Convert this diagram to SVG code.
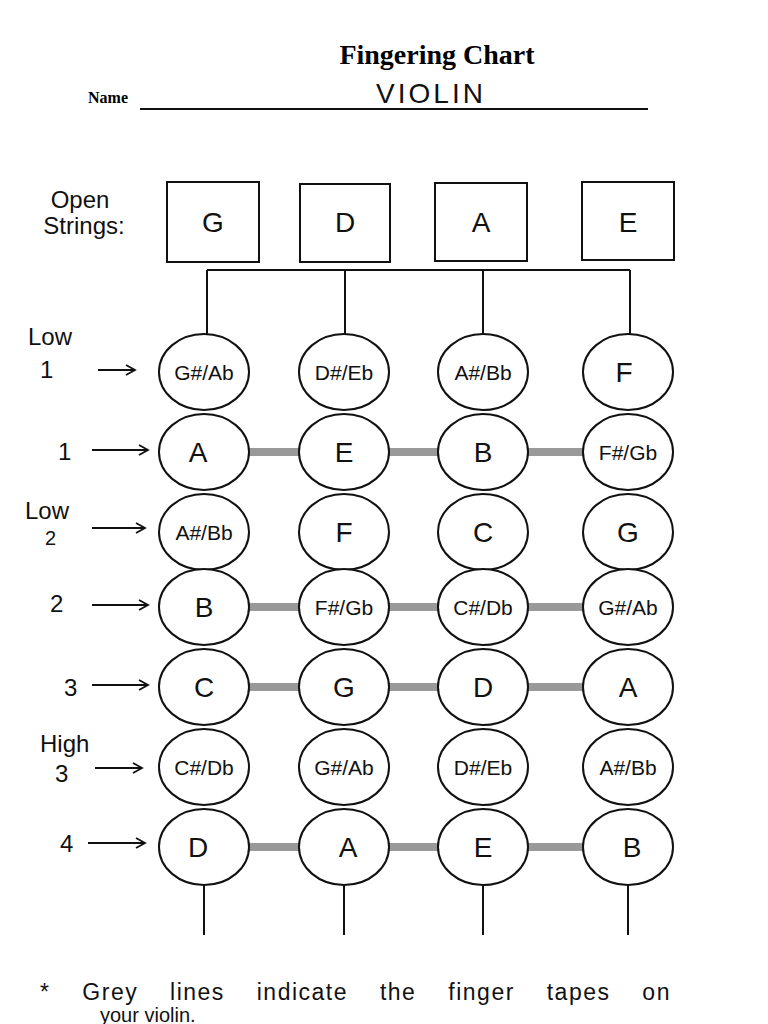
<svg xmlns="http://www.w3.org/2000/svg" width="768" height="1024" viewBox="0 0 768 1024">
<style>
.h{font-family:"Liberation Sans",sans-serif;fill:#111}
.n{font-size:28px;text-anchor:middle}
.s{font-size:21px;text-anchor:middle}
.b{fill:none;stroke:#111;stroke-width:2}
.c{fill:#fff;stroke:#111;stroke-width:2}
.l{stroke:#111;stroke-width:2}
.ar{stroke:#111;stroke-width:1.8;marker-end:url(#a)}
.t{stroke:#999;stroke-width:8}
.lab{font-size:24px}
</style>
<defs><marker id="a" markerWidth="12" markerHeight="12" refX="10" refY="6" orient="auto" markerUnits="userSpaceOnUse"><path d="M1,1 L10,6 L1,11" fill="none" stroke="#111" stroke-width="1.8"/></marker></defs>
<rect width="768" height="1024" fill="#fff"/>
<text x="437" y="64" font-family="Liberation Serif,serif" font-weight="bold" font-size="28" text-anchor="middle">Fingering Chart</text>
<text x="88" y="103" font-family="Liberation Serif,serif" font-weight="bold" font-size="16">Name</text>
<line x1="140" y1="109" x2="648" y2="109" class="l"/>
<text x="431" y="103" class="h" font-size="28" text-anchor="middle" letter-spacing="3">VIOLIN</text>
<text x="80" y="208" class="h lab" text-anchor="middle">Open</text>
<text x="84" y="234" class="h lab" text-anchor="middle">Strings:</text>
<g id="connectors">
<path class="b" d="M207,270 H630 M207,270 V334 M345,270 V334 M483,270 V334 M630,270 V334"/>
<path class="l" d="M204,885 V935 M344,885 V935 M483,885 V935 M628,885 V935"/>
<path class="t" d="M249,452 H299 M389,452 H438 M528,452 H583 M249,607 H299 M389,607 H438 M528,607 H583 M249,687 H299 M389,687 H438 M528,687 H583 M249,847 H299 M389,847 H438 M528,847 H583"/>
<line class="ar" x1="98" y1="370" x2="135" y2="370"/>
<line class="ar" x1="92" y1="450" x2="148" y2="450"/>
<line class="ar" x1="92" y1="528" x2="145" y2="528"/>
<line class="ar" x1="92" y1="605" x2="148" y2="605"/>
<line class="ar" x1="92" y1="685" x2="148" y2="685"/>
<line class="ar" x1="95" y1="768" x2="142" y2="768"/>
<line class="ar" x1="88" y1="843" x2="145" y2="843"/>
</g>
<g id="open-G"><rect x="167" y="182" width="92" height="80" class="b"/><text x="213" y="232" class="h n">G</text></g>
<g id="open-D"><rect x="300" y="184" width="90" height="78" class="b"/><text x="345" y="232" class="h n">D</text></g>
<g id="open-A"><rect x="435" y="183" width="92" height="78" class="b"/><text x="481" y="232" class="h n">A</text></g>
<g id="open-E"><rect x="582" y="182" width="92" height="78" class="b"/><text x="628" y="232" class="h n">E</text></g>
<g class="h lab">
<text x="28" y="345">Low</text><text x="40" y="378">1</text>
<text x="58" y="460">1</text>
<text x="25" y="519">Low</text><text x="45" y="545" font-size="20">2</text>
<text x="50" y="612">2</text>
<text x="64" y="696">3</text>
<text x="40" y="752">High</text><text x="55" y="782">3</text>
<text x="60" y="852">4</text>
</g>
<g id="nodes">
<g id="r1"><ellipse cx="204" cy="372" rx="45" ry="38" class="c"/><text x="204" y="380" class="h s">G#/Ab</text>
<ellipse cx="344" cy="372" rx="45" ry="38" class="c"/><text x="344" y="380" class="h s">D#/Eb</text>
<ellipse cx="483" cy="372" rx="45" ry="38" class="c"/><text x="483" y="380" class="h s">A#/Bb</text>
<ellipse cx="628" cy="372" rx="45" ry="38" class="c"/><text x="624" y="382" class="h n">F</text></g>
<g id="r2"><ellipse cx="204" cy="452" rx="45" ry="38" class="c"/><text x="198" y="462" class="h n">A</text>
<ellipse cx="344" cy="452" rx="45" ry="38" class="c"/><text x="344" y="462" class="h n">E</text>
<ellipse cx="483" cy="452" rx="45" ry="38" class="c"/><text x="483" y="462" class="h n">B</text>
<ellipse cx="628" cy="452" rx="45" ry="38" class="c"/><text x="628" y="460" class="h s">F#/Gb</text></g>
<g id="r3"><ellipse cx="204" cy="532" rx="45" ry="38" class="c"/><text x="204" y="540" class="h s">A#/Bb</text>
<ellipse cx="344" cy="532" rx="45" ry="38" class="c"/><text x="344" y="542" class="h n">F</text>
<ellipse cx="483" cy="532" rx="45" ry="38" class="c"/><text x="483" y="542" class="h n">C</text>
<ellipse cx="628" cy="532" rx="45" ry="38" class="c"/><text x="628" y="542" class="h n">G</text></g>
<g id="r4"><ellipse cx="204" cy="607" rx="45" ry="38" class="c"/><text x="204" y="617" class="h n">B</text>
<ellipse cx="344" cy="607" rx="45" ry="38" class="c"/><text x="344" y="615" class="h s">F#/Gb</text>
<ellipse cx="483" cy="607" rx="45" ry="38" class="c"/><text x="483" y="615" class="h s">C#/Db</text>
<ellipse cx="628" cy="607" rx="45" ry="38" class="c"/><text x="628" y="615" class="h s">G#/Ab</text></g>
<g id="r5"><ellipse cx="204" cy="687" rx="45" ry="38" class="c"/><text x="204" y="697" class="h n">C</text>
<ellipse cx="344" cy="687" rx="45" ry="38" class="c"/><text x="344" y="697" class="h n">G</text>
<ellipse cx="483" cy="687" rx="45" ry="38" class="c"/><text x="483" y="697" class="h n">D</text>
<ellipse cx="628" cy="687" rx="45" ry="38" class="c"/><text x="628" y="697" class="h n">A</text></g>
<g id="r6"><ellipse cx="204" cy="767" rx="45" ry="38" class="c"/><text x="204" y="775" class="h s">C#/Db</text>
<ellipse cx="344" cy="767" rx="45" ry="38" class="c"/><text x="344" y="775" class="h s">G#/Ab</text>
<ellipse cx="483" cy="767" rx="45" ry="38" class="c"/><text x="483" y="775" class="h s">D#/Eb</text>
<ellipse cx="628" cy="767" rx="45" ry="38" class="c"/><text x="628" y="775" class="h s">A#/Bb</text></g>
<g id="r7"><ellipse cx="204" cy="847" rx="45" ry="38" class="c"/><text x="198" y="857" class="h n">D</text>
<ellipse cx="344" cy="847" rx="45" ry="38" class="c"/><text x="348" y="857" class="h n">A</text>
<ellipse cx="483" cy="847" rx="45" ry="38" class="c"/><text x="483" y="857" class="h n">E</text>
<ellipse cx="628" cy="847" rx="45" ry="38" class="c"/><text x="632" y="857" class="h n">B</text></g>
</g>
<text x="40" y="1000" class="h" font-size="23" letter-spacing="1.5" word-spacing="24">* Grey lines indicate the finger tapes on</text>
<text x="100" y="1022" class="h" font-size="20">your violin.</text>
</svg>
